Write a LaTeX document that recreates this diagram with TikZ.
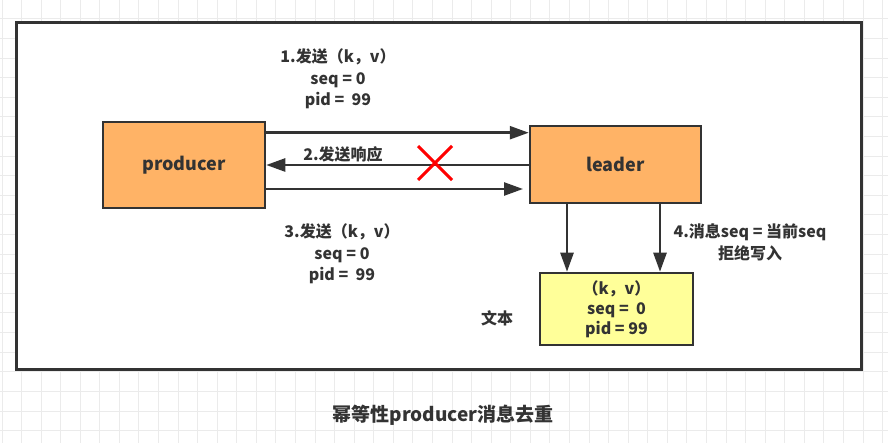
\documentclass[tikz,border=0pt]{standalone}
\usepackage{fontspec}
\setmainfont{Noto Sans CJK SC}
\usetikzlibrary{arrows.meta}
\definecolor{ink}{HTML}{333333}
\definecolor{orng}{HTML}{FFB366}
\definecolor{yel}{HTML}{FFFF99}
\definecolor{gridc}{HTML}{EBEBEB}
\tikzset{
  box/.style={draw=ink, line width=2.5pt, inner sep=0pt, font=\bfseries\fontsize{18}{20}\selectfont, text=ink},
  conn/.style={draw=ink, line width=2.5pt, -{Triangle[length=19pt,width=13pt]}},
  lbl/.style={font=\bfseries\fontsize{16}{21.5}\selectfont, text=ink, align=center, inner sep=0pt},
}
\begin{document}
\begin{tikzpicture}[x=1pt,y=-1pt]
\useasboundingbox (0,0) rectangle (888,443);
\fill[white] (0,0) rectangle (888,443);
% grid
\foreach \i in {0,...,45} {
  \draw[gridc, line width=1pt] ({2+\i*19.57},0) -- ({2+\i*19.57},443);
}
\foreach \j in {0,...,23} {
  \draw[gridc, line width=1pt] (0,{-0.6+\j*19.6}) -- (888,{-0.6+\j*19.6});
}
% frame
\draw[ink, fill=white, line width=3pt] (16,23) rectangle (861,369);
% boxes
\node[box, fill=orng, minimum width=162pt, minimum height=86pt] (prod) at (184,165) {producer};
\node[box, fill=orng, minimum width=171pt, minimum height=77pt] (lead) at (615.5,164.5) {leader};
\node[box, fill=yel, minimum width=153pt, minimum height=72pt, align=center, font=\bfseries\fontsize{16}{20}\selectfont] (rec) at (616.5,309) {（k，v）\\seq =\ \ 0\\pid = 99};
% connectors
\coordinate (a1s) at (prod.east |- 0,132.7);
\coordinate (a1e) at (lead.west |- 0,132.7);
\draw[conn] (a1s) -- (a1e);
\coordinate (a2s) at (lead.west |- 0,165);
\coordinate (a2e) at (prod.east |- 0,165);
\draw[conn] (a2s) -- (a2e);
\coordinate (a3s) at (prod.east |- 0,189);
\coordinate (a3e) at (523,189);
\draw[conn] (a3s) -- (a3e);
\coordinate (d1s) at (567,0 |- lead.south);
\coordinate (d1e) at (567,0 |- rec.north);
\draw[conn] (d1s) -- (d1e);
\coordinate (d2s) at (660,0 |- lead.south);
\coordinate (d2e) at (660,0 |- rec.north);
\draw[conn] (d2s) -- (d2e);
% red cross
\draw[red, line width=3pt] (418,146) -- (452,180) (452,146) -- (418,180);
% labels
\node[lbl] (t1) at (338,79) {1.发送（k，v）\\seq = 0\\pid =\ \ 99};
\node[lbl] (t2) at (343,154) {2.发送响应};
\node[lbl] (t3) at (342,254) {3.发送（k，v）\\seq = 0\\pid =\ \ 99};
\node[lbl] (t4) at (750,242.5) {4.消息seq = 当前seq\\拒绝写入};
\node[lbl] (t5) at (497,318) {文本};
\node[lbl, font=\bfseries\fontsize{19}{22}\selectfont] (title) at (443,415) {幂等性producer消息去重};
\end{tikzpicture}
\end{document}
